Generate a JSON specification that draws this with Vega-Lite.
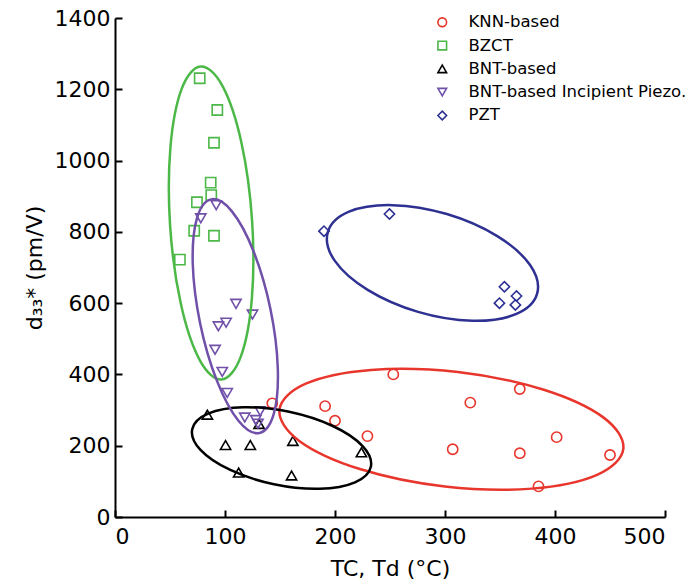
{
  "$schema": "https://vega.github.io/schema/vega-lite/v6.json",
  "width": 550,
  "height": 499,
  "autosize": {"type": "none"},
  "padding": {"left": 115, "top": 18, "right": 24, "bottom": 70},
  "background": "white",
  "config": {
    "view": {"stroke": null},
    "font": "DejaVu Sans",
    "axis": {
      "grid": false,
      "domainColor": "black",
      "domainWidth": 2,
      "tickColor": "black",
      "tickWidth": 2,
      "tickSize": -7,
      "labelFont": "DejaVu Sans",
      "labelFontSize": 22,
      "labelColor": "black",
      "titleFont": "DejaVu Sans",
      "titleFontSize": 22,
      "titleFontWeight": "normal",
      "titleColor": "black"
    },
    "legend": {
      "orient": "none",
      "legendX": 319,
      "legendY": -4,
      "padding": 0,
      "labelFont": "DejaVu Sans",
      "labelFontSize": 16.5,
      "labelColor": "black",
      "labelLimit": 0,
      "symbolSize": 75,
      "symbolStrokeWidth": 1.6,
      "symbolFillColor": "transparent",
      "rowPadding": 6.3,
      "labelOffset": 18
    }
  },
  "datasets": {
    "pts": [
      {"s": "KNN-based", "x": 253, "y": 400},
      {"s": "KNN-based", "x": 368, "y": 359},
      {"s": "KNN-based", "x": 323, "y": 321},
      {"s": "KNN-based", "x": 191, "y": 311},
      {"s": "KNN-based", "x": 200, "y": 270},
      {"s": "KNN-based", "x": 229.5, "y": 227},
      {"s": "KNN-based", "x": 307, "y": 190},
      {"s": "KNN-based", "x": 368, "y": 179},
      {"s": "KNN-based", "x": 401.5, "y": 224},
      {"s": "KNN-based", "x": 450, "y": 174},
      {"s": "KNN-based", "x": 385, "y": 86},
      {"s": "KNN-based", "x": 143, "y": 319},
      {"s": "BZCT", "x": 77, "y": 1231},
      {"s": "BZCT", "x": 93, "y": 1142},
      {"s": "BZCT", "x": 90, "y": 1050},
      {"s": "BZCT", "x": 87, "y": 938},
      {"s": "BZCT", "x": 87.5, "y": 903},
      {"s": "BZCT", "x": 74.5, "y": 883},
      {"s": "BZCT", "x": 72, "y": 803},
      {"s": "BZCT", "x": 90, "y": 789},
      {"s": "BZCT", "x": 59, "y": 722},
      {"s": "BNT-based", "x": 84, "y": 287},
      {"s": "BNT-based", "x": 100.5, "y": 202},
      {"s": "BNT-based", "x": 123, "y": 202},
      {"s": "BNT-based", "x": 161.7, "y": 213.5},
      {"s": "BNT-based", "x": 224, "y": 181.5},
      {"s": "BNT-based", "x": 112.4, "y": 124.5},
      {"s": "BNT-based", "x": 160.5, "y": 116.5},
      {"s": "BNT-based", "x": 131, "y": 261},
      {"s": "BNT-based Incipient Piezo.", "x": 92, "y": 875},
      {"s": "BNT-based Incipient Piezo.", "x": 78, "y": 838},
      {"s": "BNT-based Incipient Piezo.", "x": 110, "y": 598},
      {"s": "BNT-based Incipient Piezo.", "x": 125, "y": 568},
      {"s": "BNT-based Incipient Piezo.", "x": 101, "y": 545},
      {"s": "BNT-based Incipient Piezo.", "x": 94, "y": 535},
      {"s": "BNT-based Incipient Piezo.", "x": 91, "y": 469},
      {"s": "BNT-based Incipient Piezo.", "x": 97.5, "y": 407},
      {"s": "BNT-based Incipient Piezo.", "x": 102, "y": 348},
      {"s": "BNT-based Incipient Piezo.", "x": 118, "y": 279},
      {"s": "BNT-based Incipient Piezo.", "x": 128, "y": 272},
      {"s": "BNT-based Incipient Piezo.", "x": 132, "y": 297},
      {"s": "BNT-based Incipient Piezo.", "x": 130, "y": 262},
      {"s": "PZT", "x": 249.5, "y": 850},
      {"s": "PZT", "x": 190, "y": 802},
      {"s": "PZT", "x": 354, "y": 646},
      {"s": "PZT", "x": 365, "y": 620},
      {"s": "PZT", "x": 349.5, "y": 600},
      {"s": "PZT", "x": 364, "y": 595}
    ],
    "ell": [
      {"s": "KNN-based", "i": 0, "x": 462.1, "y": 191.1},
      {"s": "KNN-based", "i": 1, "x": 438.3, "y": 118.3},
      {"s": "KNN-based", "i": 2, "x": 378.9, "y": 79.6},
      {"s": "KNN-based", "i": 3, "x": 299.9, "y": 85.6},
      {"s": "KNN-based", "i": 4, "x": 222.6, "y": 134.6},
      {"s": "KNN-based", "i": 5, "x": 167.5, "y": 213.5},
      {"s": "KNN-based", "i": 6, "x": 149.5, "y": 301.1},
      {"s": "KNN-based", "i": 7, "x": 173.4, "y": 374.0},
      {"s": "KNN-based", "i": 8, "x": 232.8, "y": 412.6},
      {"s": "KNN-based", "i": 9, "x": 311.7, "y": 406.6},
      {"s": "KNN-based", "i": 10, "x": 389.1, "y": 357.6},
      {"s": "KNN-based", "i": 11, "x": 444.2, "y": 278.8},
      {"s": "BNT-based", "i": 0, "x": 232.6, "y": 141.0},
      {"s": "BNT-based", "i": 1, "x": 218.2, "y": 97.3},
      {"s": "BNT-based", "i": 2, "x": 186.0, "y": 79.3},
      {"s": "BNT-based", "i": 3, "x": 144.5, "y": 92.0},
      {"s": "BNT-based", "i": 4, "x": 104.8, "y": 131.9},
      {"s": "BNT-based", "i": 5, "x": 77.7, "y": 188.3},
      {"s": "BNT-based", "i": 6, "x": 70.2, "y": 246.2},
      {"s": "BNT-based", "i": 7, "x": 84.6, "y": 289.9},
      {"s": "BNT-based", "i": 8, "x": 116.8, "y": 307.9},
      {"s": "BNT-based", "i": 9, "x": 158.3, "y": 295.2},
      {"s": "BNT-based", "i": 10, "x": 198.0, "y": 255.3},
      {"s": "BNT-based", "i": 11, "x": 225.1, "y": 198.9},
      {"s": "PZT", "i": 0, "x": 383.7, "y": 625.9},
      {"s": "PZT", "i": 1, "x": 364.4, "y": 569.0},
      {"s": "PZT", "i": 2, "x": 324.8, "y": 550.5},
      {"s": "PZT", "i": 3, "x": 275.5, "y": 575.5},
      {"s": "PZT", "i": 4, "x": 229.7, "y": 637.3},
      {"s": "PZT", "i": 5, "x": 199.7, "y": 719.3},
      {"s": "PZT", "i": 6, "x": 193.5, "y": 799.5},
      {"s": "PZT", "i": 7, "x": 212.8, "y": 856.5},
      {"s": "PZT", "i": 8, "x": 252.4, "y": 874.9},
      {"s": "PZT", "i": 9, "x": 301.7, "y": 849.9},
      {"s": "PZT", "i": 10, "x": 347.5, "y": 788.1},
      {"s": "PZT", "i": 11, "x": 377.5, "y": 706.2},
      {"s": "BZCT", "i": 0, "x": 96.8, "y": 385.9},
      {"s": "BZCT", "i": 1, "x": 76.9, "y": 440.9},
      {"s": "BZCT", "i": 2, "x": 59.8, "y": 598.8},
      {"s": "BZCT", "i": 3, "x": 50.1, "y": 817.3},
      {"s": "BZCT", "i": 4, "x": 50.4, "y": 1037.8},
      {"s": "BZCT", "i": 5, "x": 60.6, "y": 1201.2},
      {"s": "BZCT", "i": 6, "x": 77.9, "y": 1263.9},
      {"s": "BZCT", "i": 7, "x": 97.8, "y": 1208.9},
      {"s": "BZCT", "i": 8, "x": 114.9, "y": 1051.0},
      {"s": "BZCT", "i": 9, "x": 124.6, "y": 832.5},
      {"s": "BZCT", "i": 10, "x": 124.4, "y": 612.0},
      {"s": "BZCT", "i": 11, "x": 114.2, "y": 448.6},
      {"s": "BNT-based Incipient Piezo.", "i": 0, "x": 131.3, "y": 235.6},
      {"s": "BNT-based Incipient Piezo.", "i": 1, "x": 112.4, "y": 269.3},
      {"s": "BNT-based Incipient Piezo.", "i": 2, "x": 92.7, "y": 381.8},
      {"s": "BNT-based Incipient Piezo.", "i": 3, "x": 77.4, "y": 543.0},
      {"s": "BNT-based Incipient Piezo.", "i": 4, "x": 70.7, "y": 709.6},
      {"s": "BNT-based Incipient Piezo.", "i": 5, "x": 74.4, "y": 837.1},
      {"s": "BNT-based Incipient Piezo.", "i": 6, "x": 87.4, "y": 891.2},
      {"s": "BNT-based Incipient Piezo.", "i": 7, "x": 106.3, "y": 857.5},
      {"s": "BNT-based Incipient Piezo.", "i": 8, "x": 126.0, "y": 745.0},
      {"s": "BNT-based Incipient Piezo.", "i": 9, "x": 141.3, "y": 583.8},
      {"s": "BNT-based Incipient Piezo.", "i": 10, "x": 148.0, "y": 417.2},
      {"s": "BNT-based Incipient Piezo.", "i": 11, "x": 144.4, "y": 289.8}
    ]
  },
  "encoding": {
    "x": {"field": "x", "type": "quantitative", "scale": {"domain": [0, 500]},
          "axis": {"values": [0, 100, 200, 300, 400, 500], "format": "d", "title": "TC, Td (°C)", "labelPadding": 16, "titlePadding": 11}},
    "y": {"field": "y", "type": "quantitative", "scale": {"domain": [0, 1400]},
          "axis": {"values": [0, 200, 400, 600, 800, 1000, 1200, 1400], "format": "d", "title": "d₃₃* (pm/V)", "labelPadding": 12, "titlePadding": 8}},
    "color": {"field": "s", "type": "nominal", "title": null,
              "scale": {"domain": ["KNN-based", "BZCT", "BNT-based", "BNT-based Incipient Piezo.", "PZT"],
                        "range": ["#e8362d", "#4cb848", "#000000", "#7050a8", "#2e3192"]}}
  },
  "layer": [
    {
      "data": {"name": "pts"},
      "mark": {"type": "point", "filled": false, "strokeWidth": 1.6, "opacity": 1, "size": 105},
      "encoding": {
        "shape": {"field": "s", "type": "nominal", "title": null,
                  "scale": {"domain": ["KNN-based", "BZCT", "BNT-based", "BNT-based Incipient Piezo.", "PZT"],
                            "range": ["circle", "square", "triangle-up", "triangle-down", "diamond"]}}
      }
    },
    {
      "data": {"name": "ell"},
      "mark": {"type": "line", "interpolate": "cardinal-closed", "strokeWidth": 2.5, "clip": false},
      "encoding": {
        "order": {"field": "i", "type": "quantitative"},
        "detail": {"field": "s"}
      }
    }
  ]
}
